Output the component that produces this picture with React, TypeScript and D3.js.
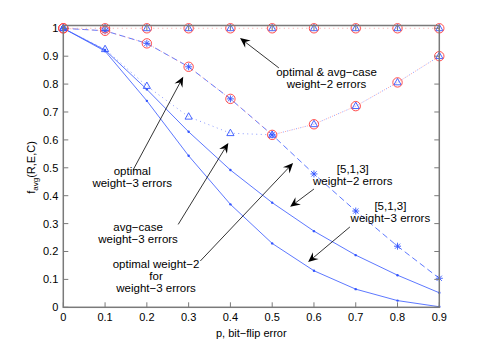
import React from "react";
import * as d3 from "d3";

const P = [0, 0.1, 0.2, 0.3, 0.4, 0.5, 0.6, 0.7, 0.8, 0.9];
const optAvgWeight2 = [1, 1, 1, 1, 1, 1, 1, 1, 1, 1];
const avgCaseWeight3 = [1, 0.925, 0.793, 0.683, 0.624, 0.618, 0.656, 0.721, 0.806, 0.9];
const optWeight2ForWeight3 = [1, 0.991, 0.946, 0.862, 0.747, 0.618, 0.478, 0.345, 0.219, 0.104];
const optimalWeight3 = [1, 0.991, 0.946, 0.862, 0.747, 0.618, 0.656, 0.721, 0.806, 0.9];
const code513Weight2 = [1, 0.922, 0.781, 0.629, 0.492, 0.375, 0.273, 0.187, 0.115, 0.052];
const code513Weight3 = [1, 0.918, 0.74, 0.543, 0.369, 0.229, 0.131, 0.065, 0.024, 0.002];

const xTicks = [0, 0.1, 0.2, 0.3, 0.4, 0.5, 0.6, 0.7, 0.8, 0.9];
const yTicks = [0, 0.1, 0.2, 0.3, 0.4, 0.5, 0.6, 0.7, 0.8, 0.9, 1];

type Ann = { lines: string[]; tx: number; ty: number; from: [number, number]; to: [number, number] };
// annotations in data coordinates
const annotations: Ann[] = [
  { lines: ["optimal & avg\u2212case", "weight\u22122 errors"], tx: 0.63, ty: 0.83, from: [0.516, 0.858], to: [0.423, 0.965] },
  { lines: ["optimal", "weight\u22123 errors"], tx: 0.165, ty: 0.475, from: [0.167, 0.492], to: [0.287, 0.826] },
  { lines: ["avg\u2212case", "weight\u22123 errors"], tx: 0.179, ty: 0.272, from: [0.275, 0.297], to: [0.395, 0.589] },
  { lines: ["optimal weight\u22122", "for", "weight\u22123 errors"], tx: 0.222, ty: 0.14, from: [0.328, 0.166], to: [0.55, 0.517] },
  { lines: ["[5,1,3]", "weight\u22122 errors"], tx: 0.693, ty: 0.483, from: [0.6, 0.424], to: [0.543, 0.36] },
  { lines: ["[5,1,3]", "weight\u22123 errors"], tx: 0.783, ty: 0.348, from: [0.686, 0.288], to: [0.586, 0.162] },
];

const W = 485, H = 346;
const BLUE = "#3355ff";
const LIGHTBLUE = "#6f80ff";
const RED = "#ff3b3b";
const PINK = "#ff8c8c";
const AXIS = "#7a7a7a";
const FONT = "'Liberation Sans', Arial, Helvetica, sans-serif";

export default function App() {
  const x = d3.scaleLinear().domain([0, 0.9]).range([63.3, 439.3]);
  const y = d3.scaleLinear().domain([0, 1.01]).range([307.3, 25.5]);
  const line = (vals: number[]) =>
    d3.line<number>().x((_, i) => x(P[i])).y((v) => y(v))(vals) || "";

  const circles = (vals: number[], key: string) =>
    vals.map((v, i) => (
      <circle key={key + i} cx={x(P[i])} cy={y(v)} r={4.7} fill="none" stroke={RED} strokeWidth={0.9} />
    ));
  const triangles = (vals: number[], key: string) =>
    vals.map((v, i) => {
      const cx = x(P[i]), cy = y(v);
      return (
        <path key={key + i} d={`M${cx},${cy - 4} L${cx + 3.6},${cy + 2.4} L${cx - 3.6},${cy + 2.4} Z`} fill="none" stroke={BLUE} strokeWidth={0.9} />
      );
    });
  const stars = (vals: number[], key: string) =>
    vals.map((v, i) => {
      const cx = x(P[i]), cy = y(v), s = 3.5, d = 2.6;
      return (
        <path key={key + i} d={`M${cx - s},${cy}H${cx + s}M${cx},${cy - s}V${cy + s}M${cx - d},${cy - d}L${cx + d},${cy + d}M${cx - d},${cy + d}L${cx + d},${cy - d}`} stroke={BLUE} strokeWidth={0.9} fill="none" />
      );
    });
  const dots = (vals: number[], key: string) =>
    vals.map((v, i) => <circle key={key + i} cx={x(P[i])} cy={y(v)} r={1.2} fill={BLUE} />);

  const arrow = (a: Ann, i: number) => {
    const x0 = x(a.from[0]), y0 = y(a.from[1]), x1 = x(a.to[0]), y1 = y(a.to[1]);
    const ang = Math.atan2(y1 - y0, x1 - x0);
    const L = 10, Wd = 4.5, notch = 6.5;
    const ux = Math.cos(ang), uy = Math.sin(ang);
    const px = -uy, py = ux;
    const bx = x1 - ux * L, by = y1 - uy * L;
    const nx = x1 - ux * notch, ny = y1 - uy * notch;
    const head = `M${x1},${y1} L${bx + px * Wd},${by + py * Wd} L${nx},${ny} L${bx - px * Wd},${by - py * Wd} Z`;
    return (
      <g key={"arr" + i}>
        <line x1={x0} y1={y0} x2={nx} y2={ny} stroke="#000" strokeWidth={0.8} />
        <path d={head} fill="#000" />
      </g>
    );
  };

  return (
    <svg width={W} height={H} style={{ position: "absolute", left: 0, top: 0, background: "#fff" }} fontFamily={FONT}>
      <rect x={0} y={0} width={W} height={H} fill="#fff" />
      {/* lines */}
      <path d={line(code513Weight2)} fill="none" stroke={BLUE} strokeWidth={0.8} />
      <path d={line(code513Weight3)} fill="none" stroke={BLUE} strokeWidth={0.8} />
      <path d={line(avgCaseWeight3)} fill="none" stroke={LIGHTBLUE} strokeWidth={0.8} strokeDasharray="1,3.5" />
      <path d={line(optWeight2ForWeight3)} fill="none" stroke={BLUE} strokeWidth={0.8} strokeDasharray="6,3.5" />
      <path d={line(optimalWeight3)} fill="none" stroke={PINK} strokeWidth={0.8} strokeDasharray="1,3.5" strokeDashoffset={2} />
      <path d={line(optAvgWeight2)} fill="none" stroke={PINK} strokeWidth={0.8} strokeDasharray="1,3.5" />
      {/* markers */}
      {dots(code513Weight2, "d2")}
      {dots(code513Weight3, "d3")}
      {stars(optWeight2ForWeight3, "s")}
      {triangles(avgCaseWeight3, "t3")}
      {triangles(optAvgWeight2, "t2")}
      {circles(optimalWeight3, "c3")}
      {circles(optAvgWeight2, "c2")}
      {/* axes box */}
      <rect x={x(0)} y={y(1.01)} width={x(0.9) - x(0)} height={y(0) - y(1.01)} fill="none" stroke={AXIS} strokeWidth={1.5} />
      {xTicks.map((t) => (
        <g key={"xt" + t}>
          <line x1={x(t)} x2={x(t)} y1={y(0)} y2={y(0) - 5} stroke={AXIS} strokeWidth={1} />
          <line x1={x(t)} x2={x(t)} y1={y(1.01)} y2={y(1.01) + 5} stroke={AXIS} strokeWidth={1} />
          <text x={x(t)} y={y(0) + 13.5} textAnchor="middle" fontSize={11} fill="#000">{String(t)}</text>
        </g>
      ))}
      {yTicks.map((t) => (
        <g key={"yt" + t}>
          <line x1={x(0)} x2={x(0) + 5} y1={y(t)} y2={y(t)} stroke={AXIS} strokeWidth={1} />
          <line x1={x(0.9)} x2={x(0.9) - 5} y1={y(t)} y2={y(t)} stroke={AXIS} strokeWidth={1} />
          <text x={x(0) - 5} y={y(t) + 4} textAnchor="end" fontSize={11} fill="#000">{String(t)}</text>
        </g>
      ))}
      {/* axis labels */}
      <text x={(x(0) + x(0.9)) / 2} y={336.5} textAnchor="middle" fontSize={11} fill="#000">p, bit{"\u2212"}flip error</text>
      <text transform="translate(35,167.5) rotate(-90)" textAnchor="middle" fontSize={11} fill="#000">
        f<tspan dy={3} fontSize={8}>avg</tspan><tspan dy={-3}>(R,E,C)</tspan>
      </text>
      {/* annotations */}
      {annotations.map(arrow)}
      {annotations.map((a, i) => (
        <text key={"at" + i} x={x(a.tx)} y={y(a.ty)} textAnchor="middle" fontSize={11.5} fill="#000">
          {a.lines.map((l, j) => (
            <tspan key={j} x={x(a.tx)} dy={j === 0 ? 0 : 12}>{l}</tspan>
          ))}
        </text>
      ))}
    </svg>
  );
}
